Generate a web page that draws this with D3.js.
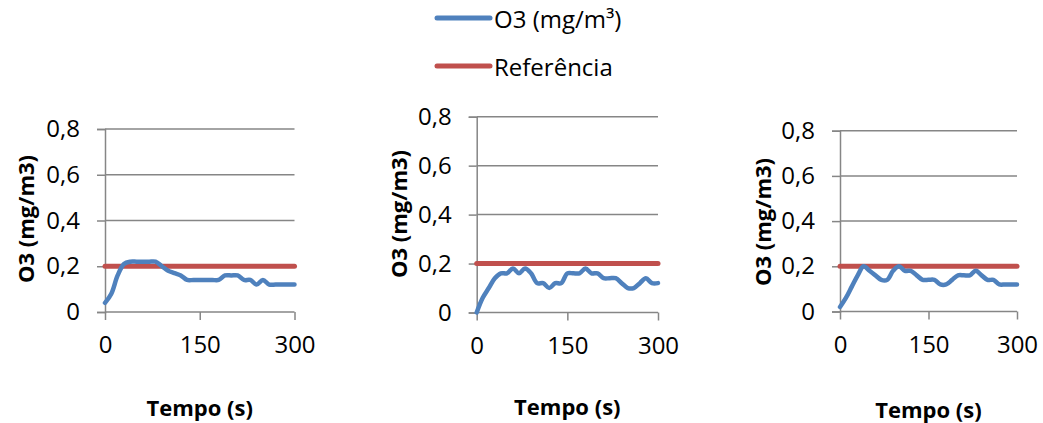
<!DOCTYPE html>
<html>
<head>
<meta charset="utf-8">
<script src="https://cdn.jsdelivr.net/npm/d3@7"></script>
<style>
  html, body { margin: 0; padding: 0; background: #fff; }
  svg { display: block; }
  text { font-family: "Open Sans", Lato, sans-serif; fill: #000; }
</style>
</head>
<body>
<svg id="chart" width="1043" height="423"></svg>
<script>
// Time axis, sampled every 10 s
const times = d3.range(0, 301, 10);

// O3 concentration (mg/m³) for each of the three runs
const o3RunA = [0.04, 0.08, 0.16, 0.21, 0.22, 0.22, 0.22, 0.22, 0.22, 0.20, 0.18,
                0.17, 0.16, 0.14, 0.14, 0.14, 0.14, 0.14, 0.14, 0.16, 0.16,
                0.16, 0.14, 0.14, 0.12, 0.14, 0.12, 0.12, 0.12, 0.12, 0.12];
const o3RunB = [0.00, 0.06, 0.10, 0.14, 0.16, 0.16, 0.18, 0.16, 0.18, 0.16, 0.12,
                0.12, 0.10, 0.12, 0.12, 0.16, 0.16, 0.16, 0.18, 0.16, 0.16,
                0.14, 0.14, 0.14, 0.12, 0.10, 0.10, 0.12, 0.14, 0.12, 0.12];
const o3RunC = [0.02, 0.06, 0.11, 0.16, 0.20, 0.18, 0.16, 0.14, 0.14, 0.18, 0.20,
                0.18, 0.18, 0.16, 0.14, 0.14, 0.14, 0.12, 0.12, 0.14, 0.16,
                0.16, 0.16, 0.18, 0.16, 0.14, 0.14, 0.12, 0.12, 0.12, 0.12];

// Reference limit
const referenceValue = 0.2;

// Tick values and labels
const xTicks = [0, 150, 300];
const yTicks = [0, 0.2, 0.4, 0.6, 0.8];
const yTickLabels = ["0", "0,2", "0,4", "0,6", "0,8"];

const seriesNames = ["O3 (mg/m³)", "Referência"];
const xTitle = "Tempo (s)";
const yTitle = "O3 (mg/m3)";

const BLUE = "#4F81BD", RED = "#C0504D", GRID = "#868686";
const FONT = 24, TITLE_FONT = 22;

// Plot boxes for the three small panels
const panels = [
  { values: o3RunA, left: 105,   right: 294.5, top: 129,   bottom: 312,   yTitleX: 25,  yTitleY: 219, xTitleY: 416 },
  { values: o3RunB, left: 476.7, right: 658,   top: 116.7, bottom: 312.5, yTitleX: 398, yTitleY: 214, xTitleY: 415 },
  { values: o3RunC, left: 840,   right: 1017,  top: 130.7, bottom: 311.5, yTitleX: 762, yTitleY: 222, xTitleY: 418 }
];

const svg = d3.select("#chart");

panels.forEach(p => {
  const x = d3.scaleLinear().domain([0, 300]).range([p.left, p.right]);
  const y = d3.scaleLinear().domain([0, 0.8]).range([p.bottom, p.top]);
  const g = svg.append("g");

  // horizontal gridlines
  g.append("g").selectAll("line").data(yTicks.filter(v => v > 0)).join("line")
    .attr("x1", p.left).attr("x2", p.right)
    .attr("y1", d => y(d)).attr("y2", d => y(d))
    .attr("stroke", GRID).attr("stroke-width", 1.5);

  // y axis
  const yAxis = g.append("g").attr("transform", `translate(${p.left},0)`)
    .call(d3.axisLeft(y).tickValues(yTicks).tickSize(8).tickPadding(17)
      .tickFormat((d, i) => yTickLabels[i]));
  yAxis.select(".domain").attr("stroke", GRID).attr("stroke-width", 1.5);
  yAxis.selectAll(".tick line").attr("stroke", GRID).attr("stroke-width", 1.5);
  yAxis.selectAll(".tick text").attr("font-size", FONT).attr("font-family", "Open Sans");

  // x axis
  const xAxis = g.append("g").attr("transform", `translate(0,${p.bottom})`)
    .call(d3.axisBottom(x).tickValues(xTicks).tickSize(8).tickPadding(16));
  xAxis.select(".domain").attr("stroke", GRID).attr("stroke-width", 1.5)
    .attr("d", `M${p.left},0H${p.right}`);
  xAxis.selectAll(".tick line").attr("stroke", GRID).attr("stroke-width", 1.5);
  xAxis.selectAll(".tick text").attr("font-size", FONT).attr("font-family", "Open Sans");

  // reference line
  g.append("line")
    .attr("x1", x(0)).attr("x2", x(300))
    .attr("y1", y(referenceValue)).attr("y2", y(referenceValue))
    .attr("stroke", RED).attr("stroke-width", 5).attr("stroke-linecap", "round");

  // O3 series
  const line = d3.line().x((d, i) => x(times[i])).y(d => y(d)).curve(d3.curveCatmullRom.alpha(0.5));
  g.append("path").datum(p.values).attr("d", line)
    .attr("fill", "none").attr("stroke", BLUE).attr("stroke-width", 4.5)
    .attr("stroke-linecap", "round").attr("stroke-linejoin", "round");

  // axis titles
  g.append("text").attr("x", (p.left + p.right) / 2).attr("y", p.xTitleY)
    .attr("text-anchor", "middle").attr("font-size", TITLE_FONT).attr("font-weight", "bold")
    .text(xTitle);
  g.append("text")
    .attr("transform", `translate(${p.yTitleX},${p.yTitleY}) rotate(-90)`)
    .attr("text-anchor", "middle").attr("dominant-baseline", "central")
    .attr("font-size", TITLE_FONT).attr("font-weight", "bold")
    .text(yTitle);
});

// legend
const legend = svg.append("g");
[BLUE, RED].forEach((c, i) => {
  const ly = 18 + i * 48;
  legend.append("line").attr("x1", 437).attr("x2", 490).attr("y1", ly).attr("y2", ly)
    .attr("stroke", c).attr("stroke-width", 5).attr("stroke-linecap", "round");
  legend.append("text").attr("x", 494).attr("y", ly).attr("dominant-baseline", "central")
    .attr("font-size", FONT).text(seriesNames[i]);
});
</script>
</body>
</html>
